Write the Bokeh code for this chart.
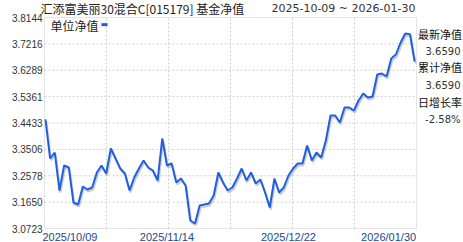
from bokeh.plotting import figure
from bokeh.models import Range1d, Label, BoxAnnotation, ColumnDataSource
from bokeh.core.properties import value
from bokeh.embed import file_html
from bokeh.resources import INLINE

title_text = "汇添富美丽30混合C[015179] 基金净值"
date_text = "2025-10-09 ~ 2026-01-30"
legend_text = "单位净值"

nav = [3.4557, 3.3185, 3.3396, 3.2059, 3.2939, 3.2868, 3.1637, 3.1567, 3.2200, 3.2095,
       3.2165, 3.2693, 3.2939, 3.2657, 3.3537, 3.3185, 3.2833, 3.2657, 3.2059, 3.2517,
       3.2833, 3.3115, 3.2868, 3.2763, 3.2411, 3.3888, 3.2939, 3.3009, 3.2341, 3.2482,
       3.2235, 3.1004, 3.0899, 3.1532, 3.1567, 3.1602, 3.1884, 3.2693, 3.2341, 3.2059,
       3.2165, 3.2482, 3.2833, 3.2411, 3.2693, 3.2306, 3.2446, 3.1989, 3.1462, 3.2482,
       3.1989, 3.2165, 3.2587, 3.2833, 3.3009, 3.3009, 3.3642, 3.3115, 3.3396, 3.3220,
       3.3818, 3.4697, 3.4697, 3.4451, 3.4979, 3.4979, 3.4873, 3.5225, 3.5471, 3.5330,
       3.5365, 3.6139, 3.6174, 3.6069, 3.6702, 3.6843, 3.7265, 3.7581, 3.7559, 3.6590]
idx = list(range(len(nav)))

y_ticks = [3.0723, 3.1650, 3.2578, 3.3506, 3.4433, 3.5361, 3.6289, 3.7216, 3.8144]
x_tick_idx = [0, 26, 52, 79]
x_tick_labels = ["2025/10/09", "2025/11/14", "2025/12/22", "2026/01/30"]

info_names = ["最新净值", "累计净值", "日增长率"]
info_values = ["3.6590", "3.6590", "-2.58%"]

# plot box (data extent) and pixel geometry
W, H = 463, 242
BOX_L, BOX_R, BOX_T, BOX_B = 44, 416, 17, 228
xr0, xr1 = -0.2, 79.4
yr0, yr1 = y_ticks[0], y_ticks[-1]
sx = (xr1 - xr0) / (BOX_R - BOX_L)   # data units per pixel
sy = (yr1 - yr0) / (BOX_B - BOX_T)
X0, X1 = xr0 - BOX_L * sx, xr1 + (W - BOX_R) * sx
Y0, Y1 = yr0 - (H - BOX_B) * sy, yr1 + BOX_T * sy

p = figure(width=W, height=H, output_backend="svg", toolbar_location=None,
           title=None, x_axis_type=None, y_axis_type=None,
           x_range=Range1d(X0, X1), y_range=Range1d(Y0, Y1),
           min_border=0, min_border_left=0, min_border_right=0,
           min_border_top=0, min_border_bottom=0)
p.background_fill_color = "white"
p.border_fill_color = "white"
p.outline_line_color = None
p.xgrid.visible = False
p.ygrid.visible = False

GRID = "#cfcfcf"
# horizontal grid lines at the inner ticks
hy = y_ticks[1:-1]
p.segment(x0=[xr0] * len(hy), x1=[xr1] * len(hy), y0=hy, y1=hy,
          line_color=GRID, line_dash="2 2", line_width=1)
# vertical grid lines: 6 equal divisions of the box
vx = [xr0 + k * (xr1 - xr0) / 6 for k in range(1, 6)]
p.segment(x0=vx, x1=vx, y0=[yr0] * len(vx), y1=[yr1] * len(vx),
          line_color=GRID, line_dash="2 2", line_width=1)

# box border
p.add_layout(BoxAnnotation(left=xr0, right=xr1, bottom=yr0, top=yr1,
                           fill_alpha=0, line_color="#a8a8a8", line_width=1))

# shadow line via shifted ranges
dy = 2 * sy
dx = 1 * sx
p.extra_y_ranges = {"shadow": Range1d(Y0 + dy, Y1 + dy)}
p.extra_x_ranges = {"shadow": Range1d(X0 - dx, X1 - dx)}
p.line(idx, nav, x_range_name="shadow", y_range_name="shadow",
       line_color="#9a9a9a", line_alpha=0.5, line_width=2)
p.line(idx, nav, line_color="#1f5fe0", line_width=2)

# y tick labels
p.text(x=[xr0 - 2 * sx] * len(y_ticks), y=y_ticks, text=[f"{t:.4f}" for t in y_ticks],
       text_align="right", text_baseline="middle", text_font=value("Liberation Sans"),
       text_font_size="10px", text_color="#333333")

# x tick labels
xsrc = ColumnDataSource(dict(
    x=[idx[i] + o * sx for i, o in zip(x_tick_idx, [-3, 0, 0, 1.5])],
    y=[yr0 - 8 * sy] * len(x_tick_idx),
    text=x_tick_labels,
    align=["left", "center", "center", "right"]))
p.text(x="x", y="y", text="text", source=xsrc, text_align="align",
       text_baseline="middle", text_font=value("Liberation Sans"),
       text_font_size="11px", text_color="#24488f")

# title and date
p.add_layout(Label(x=xr0 - 4 * sx, y=yr1 + 9 * sy, text=title_text,
                   text_font="Noto Sans CJK SC", text_font_size="12px",
                   text_color="#222222", text_align="left", text_baseline="middle"))
p.add_layout(Label(x=xr1 - 1 * sx, y=yr1 + 9 * sy, text=date_text,
                   text_font="DejaVu Sans", text_font_size="11px",
                   text_color="#333333", text_align="right", text_baseline="middle"))

# legend
p.add_layout(Label(x=xr0 + 6 * sx, y=yr1 - 8 * sy, text=legend_text,
                   text_font="Noto Sans CJK SC", text_font_size="12px",
                   text_color="#222222", text_align="left", text_baseline="middle"))
p.add_layout(Label(x=xr0 + 56 * sx, y=yr1 - 7 * sy, text="▬",
                   text_font="DejaVu Sans", text_font_size="8px",
                   text_color="#1f5fe0", text_align="left", text_baseline="middle"))

# right info panel
name_offs = [16, 49, 84]
val_offs = [33.5, 67, 102]
for i in range(3):
    p.add_layout(Label(x=xr1 + 1.5 * sx, y=yr1 - name_offs[i] * sy, text=info_names[i],
                       text_font="Noto Sans CJK SC", text_font_size="11px",
                       text_color="#111111", text_align="left", text_baseline="middle"))
    p.add_layout(Label(x=xr1 + 44 * sx, y=yr1 - val_offs[i] * sy, text=info_values[i],
                       text_font="DejaVu Sans", text_font_size="10px",
                       text_color="#333333", text_align="right", text_baseline="middle"))

open("out.html", "w").write(file_html(p, INLINE))
